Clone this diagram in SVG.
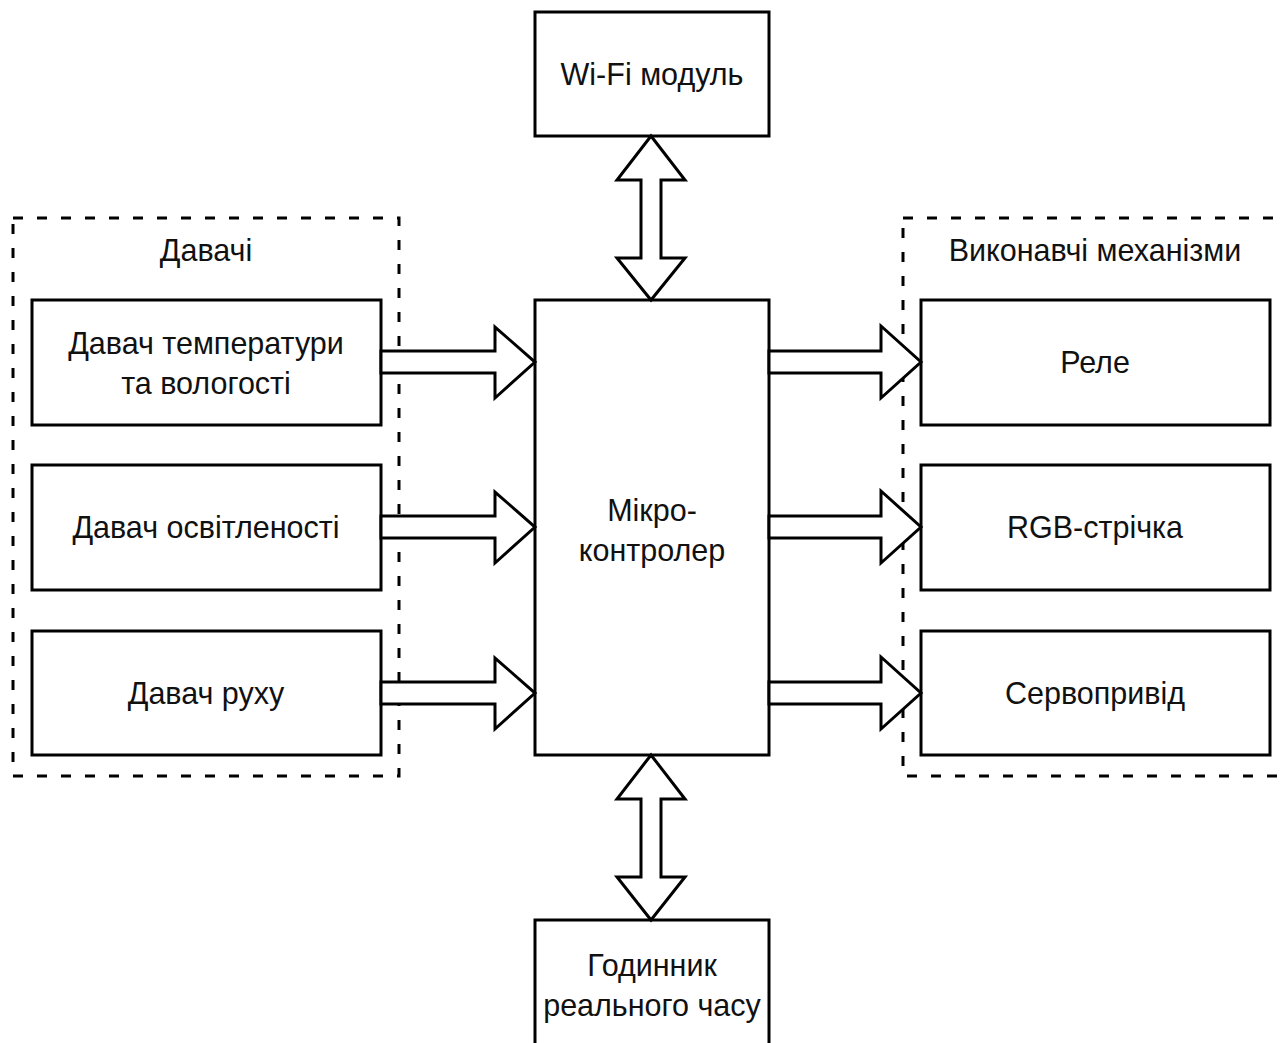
<svg xmlns="http://www.w3.org/2000/svg" width="1286" height="1043" viewBox="0 0 1286 1043">
<style>
.box{fill:#fff;stroke:#000;stroke-width:3}
.grp{fill:none;stroke:#000;stroke-width:3;stroke-dasharray:10 14}
.arr{fill:#fff;stroke:#000;stroke-width:3;stroke-linejoin:miter}
text{font-family:"Liberation Sans",Arial,sans-serif;font-size:30.5px;fill:#111;text-anchor:middle}
</style>
<rect width="1286" height="1043" fill="#fff"/>
<g id="group-sensors">
<rect class="grp" x="13" y="218" width="386" height="558"/>
<text x="206" y="261">Давачі</text>
</g>
<g id="group-actuators">
<rect class="grp" x="903" y="218" width="400" height="558"/>
<text x="1095" y="261">Виконавчі механізми</text>
</g>
<g id="node-wifi">
<rect class="box" x="535" y="12" width="234" height="124"/>
<text x="652" y="85">Wi-Fi модуль</text>
</g>
<g id="node-mcu">
<rect class="box" x="535" y="300" width="234" height="455"/>
<text x="652" y="521">Мікро-</text>
<text x="652" y="561">контролер</text>
</g>
<g id="node-clock">
<rect class="box" x="535" y="920" width="234" height="140"/>
<text x="652" y="976">Годинник</text>
<text x="652" y="1016">реального часу</text>
</g>
<g id="node-temp">
<rect class="box" x="32" y="300" width="349" height="125"/>
<text x="206" y="354">Давач температури</text>
<text x="206" y="394">та вологості</text>
</g>
<g id="node-light">
<rect class="box" x="32" y="465" width="349" height="125"/>
<text x="206" y="538">Давач освітленості</text>
</g>
<g id="node-motion">
<rect class="box" x="32" y="631" width="349" height="124"/>
<text x="206" y="704">Давач руху</text>
</g>
<g id="node-relay">
<rect class="box" x="921" y="300" width="349" height="125"/>
<text x="1095" y="373">Реле</text>
</g>
<g id="node-rgb">
<rect class="box" x="921" y="465" width="349" height="125"/>
<text x="1095" y="538">RGB-стрічка</text>
</g>
<g id="node-servo">
<rect class="box" x="921" y="631" width="349" height="124"/>
<text x="1095" y="704">Сервопривід</text>
</g>
<g id="connectors">
<path class="arr" d="M381,351 L495,351 L495,327 L535,362 L495,398 L495,373 L381,373 Z"/>
<path class="arr" d="M381,516 L495,516 L495,492 L535,527 L495,563 L495,538 L381,538 Z"/>
<path class="arr" d="M381,682 L495,682 L495,658 L535,693 L495,729 L495,704 L381,704 Z"/>
<path class="arr" d="M769,351 L881,351 L881,326 L921,362 L881,398 L881,373 L769,373 Z"/>
<path class="arr" d="M769,516 L881,516 L881,491 L921,527 L881,563 L881,538 L769,538 Z"/>
<path class="arr" d="M769,682 L881,682 L881,657 L921,693 L881,729 L881,704 L769,704 Z"/>
<path class="arr" d="M651,136 L685,180 L661,180 L661,258 L685,258 L651,300 L617,258 L641,258 L641,180 L617,180 Z"/>
<path class="arr" d="M651,755 L685,799 L661,799 L661,877 L685,877 L651,920 L617,877 L641,877 L641,799 L617,799 Z"/>
</g>
</svg>
